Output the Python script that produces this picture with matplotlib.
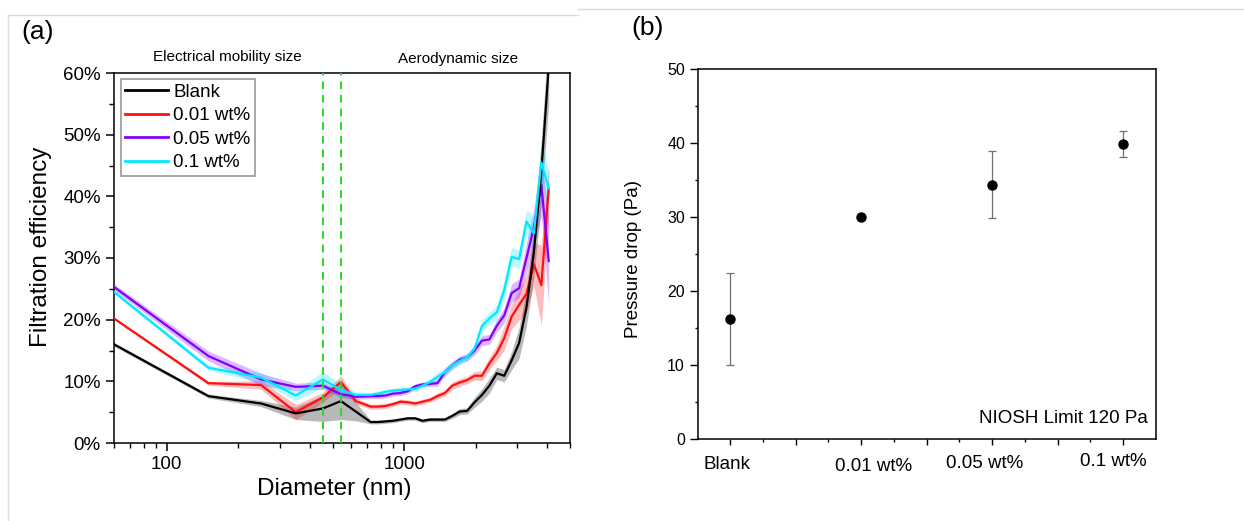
import numpy as np
import matplotlib
matplotlib.use("Agg")
import matplotlib.pyplot as plt
from matplotlib.lines import Line2D
from matplotlib.ticker import FixedLocator, NullFormatter, FuncFormatter
import matplotlib.transforms as mtransforms

plt.rcParams['font.family'] = ['Liberation Sans', 'DejaVu Sans']

# ---- panel (a): filtration efficiency vs diameter ----
diameter = [60, 150, 250, 350, 455,
            542, 626, 723, 777, 835, 898, 965, 1037, 1114, 1197, 1286,
            1382, 1486, 1596, 1715, 1843, 1981, 2129, 2288, 2458, 2642,
            2839, 3051, 3278, 3523, 3786, 4068]

eff_blank = [16.0, 7.6, 6.4, 4.8, 5.6,
             6.8, 5.1, 3.4, 3.4, 3.5, 3.6, 3.8, 4.0, 4.0, 3.6, 3.8,
             3.8, 3.8, 4.4, 5.1, 5.2, 6.6, 7.8, 9.3, 11.3, 10.9,
             13.4, 16.2, 22.0, 31.0, 44.0, 61.0]
std_blank = [0.3, 0.3, 0.5, 1.0, 2.1,
             3.0, 1.5, 0.3, 0.3, 0.3, 0.3, 0.3, 0.3, 0.3, 0.3, 0.3,
             0.3, 0.3, 0.4, 0.5, 0.5, 0.8, 1.0, 1.2, 1.0, 1.0,
             1.5, 2.5, 3.0, 4.0, 5.0, 6.0]

eff_001 = [20.2, 9.7, 9.4, 5.0, 7.4,
           9.9, 6.8, 5.9, 5.9, 6.0, 6.3, 6.7, 6.6, 6.4, 6.7, 7.0,
           7.6, 8.1, 9.3, 9.8, 10.2, 10.9, 10.9, 12.9, 14.6, 17.0,
           20.5, 22.4, 24.2, 29.0, 25.6, 41.3]
std_001 = [0.2, 0.3, 0.7, 1.2, 0.8,
           1.0, 0.5, 0.4, 0.4, 0.4, 0.4, 0.4, 0.4, 0.4, 0.4, 0.4,
           0.5, 0.5, 0.6, 0.6, 0.6, 0.7, 0.8, 1.0, 1.2, 2.0,
           2.0, 2.5, 3.0, 3.5, 6.5, 4.0]

eff_005 = [25.3, 14.1, 10.3, 9.1, 9.3,
           7.9, 7.5, 7.6, 7.6, 7.7, 8.0, 8.1, 8.4, 9.2, 9.5, 9.6,
           9.7, 11.5, 12.6, 13.5, 13.9, 15.0, 16.6, 16.8, 19.0, 20.7,
           24.3, 25.1, 30.0, 35.0, 41.8, 29.5]
std_005 = [0.5, 0.8, 1.0, 0.6, 0.6,
           0.5, 0.4, 0.4, 0.4, 0.4, 0.4, 0.4, 0.4, 0.4, 0.4, 0.4,
           0.5, 0.6, 0.6, 0.6, 0.6, 0.7, 0.8, 0.8, 1.0, 1.2,
           1.5, 1.5, 2.5, 3.0, 5.0, 7.0]

eff_01 = [24.5, 12.2, 10.6, 7.7, 10.3,
          8.6, 7.8, 7.8, 8.0, 8.3, 8.5, 8.6, 8.7, 8.8, 9.3, 9.9,
          10.7, 11.5, 12.6, 13.3, 13.9, 15.3, 19.0, 20.2, 21.2, 24.8,
          30.2, 29.8, 35.9, 34.0, 45.5, 41.3]
std_01 = [0.3, 0.4, 0.8, 0.8, 1.3,
          1.0, 0.5, 0.4, 0.4, 0.4, 0.4, 0.4, 0.4, 0.4, 0.4, 0.6,
          0.8, 0.8, 0.6, 0.6, 0.6, 0.8, 1.0, 1.0, 1.2, 1.5,
          1.5, 1.5, 2.0, 2.5, 3.5, 3.0]

series_labels = ['Blank', '0.01 wt%', '0.05 wt%', '0.1 wt%']
series_colors = ['black', '#ff1010', '#8000ff', '#00e8ff']
boundary_sizes = [455, 542]

# ---- panel (b): pressure drop ----
samples = ['Blank', '0.01 wt%', '0.05 wt%', '0.1 wt%']
pressure_drop = [16.2, 30.0, 34.4, 39.9]
pressure_err = [6.2, 0.0, 4.5, 1.8]


fig = plt.figure(figsize=(12.44, 5.21), dpi=100)
W, H = 1244, 521


def box(l, t, r, b):
    return [l / W, 1 - b / H, (r - l) / W, (b - t) / H]


# screenshot frame lines
for xs, ys in [([8, 578], [15, 15]), ([8, 8], [15, 521]), ([578, 1244], [9, 9])]:
    fig.add_artist(Line2D([x / W for x in xs], [1 - y / H for y in ys],
                          color='#dcdcdc', lw=1.0))

ax = fig.add_axes(box(114, 73, 570, 443))
x = np.array(diameter)
all_eff = [eff_blank, eff_001, eff_005, eff_01]
all_std = [std_blank, std_001, std_005, std_01]
lines = []
for i, (eff, sd, lab, col) in enumerate(zip(all_eff, all_std, series_labels, series_colors)):
    eff = np.array(eff)
    sd = np.array(sd)
    ax.fill_between(x, eff - sd, eff + sd, color=col, alpha=0.28, lw=0, zorder=1)
    z = 6 if lab == 'Blank' else 3 + i
    ln, = ax.plot(x, eff, color=col, lw=1.6, label=lab, zorder=z)
    lines.append(ln)

for b in boundary_sizes:
    ax.axvline(b, color='#22dd22', ls=(0, (4, 3)), lw=1.4, zorder=7)

ax.set_xscale('log')
ax.set_xlim(60, 5000)
ax.set_ylim(0, 60)
ax.xaxis.set_major_locator(FixedLocator([100, 1000]))
ax.xaxis.set_major_formatter(FuncFormatter(lambda v, p: '%d' % v))
ax.xaxis.set_minor_locator(FixedLocator([60, 70, 80, 90, 200, 300, 400, 500, 600, 700,
                                         800, 900, 2000, 3000, 4000, 5000]))
ax.xaxis.set_minor_formatter(NullFormatter())
ax.set_yticks(np.arange(0, 61, 10))
ax.set_yticks(np.arange(5, 60, 10), minor=True)
ax.yaxis.set_major_formatter(FuncFormatter(lambda v, p: '%d%%' % v))
ax.tick_params(which='major', direction='out', length=6, width=1.1, labelsize=13.5)
ax.tick_params(which='minor', direction='out', length=3.5, width=1.0)
for s in ax.spines.values():
    s.set_linewidth(1.1)

ax.set_xlabel('Diameter (nm)', fontsize=17.5)
ax.xaxis.set_label_coords(0.484, -0.095)
ax.set_ylabel('Filtration efficiency', fontsize=17.5)
ax.yaxis.set_label_coords(-0.135, 0.53)

leg = ax.legend(handles=lines, loc='upper left', bbox_to_anchor=(0.0145, 0.984),
                borderaxespad=0, fontsize=13.5, frameon=True, fancybox=False,
                handlelength=2.3, handletextpad=0.25, labelspacing=0.34,
                borderpad=0.25)
leg.get_frame().set_edgecolor('#808080')
leg.get_frame().set_linewidth(1.2)
for h in leg.get_lines():
    h.set_linewidth(2.0)

fig.text(227 / W, 1 - 57 / H, 'Electrical mobility size', fontsize=11,
         ha='center', va='center')
fig.text(458 / W, 1 - 59 / H, 'Aerodynamic size', fontsize=11,
         ha='center', va='center')
fig.text(21 / W, 1 - 32 / H, '(a)', fontsize=19, ha='left', va='center')
fig.text(631 / W, 1 - 28 / H, '(b)', fontsize=19, ha='left', va='center')

# ---- panel (b) ----
bx = fig.add_axes(box(697.5, 69.3, 1155.7, 438.7))
pos = np.arange(1, len(samples) + 1)
bx.errorbar(pos, pressure_drop, yerr=pressure_err, fmt='none', ecolor='#707070',
            elinewidth=0.9, capsize=3.2, capthick=0.9, zorder=2)
bx.plot(pos, pressure_drop, 'o', color='black', ms=6.5, zorder=3)
bx.set_xlim(0.75, 4.25)
bx.set_ylim(0, 50)
bx.set_xticks(np.arange(1, 4.01, 0.5))
bx.set_xticklabels([samples[0], '', samples[1], '', samples[2], '', samples[3]])
bx.set_xticks(np.arange(1.25, 4.0, 0.5), minor=True)
bx.set_yticks(np.arange(0, 51, 10))
bx.set_yticks(np.arange(5, 50, 10), minor=True)
bx.tick_params(axis='y', which='major', direction='out', length=5.5, width=1.0, labelsize=11.5)
bx.tick_params(axis='y', which='minor', direction='out', length=2.5, width=1.0)
bx.tick_params(axis='x', which='major', direction='out', length=4.5, width=1.0,
               labelsize=13.5, pad=8)
bx.tick_params(axis='x', which='minor', direction='out', length=2.5, width=1.0)
for s in bx.spines.values():
    s.set_linewidth(1.1)

# small label offsets as in the original
offsets = [(-3, 0), (0, 0), (12, -2), (0, 0), (-7, 1), (0, 0), (-10, 3)]
for lab, (dx, dy) in zip(bx.get_xticklabels(), offsets):
    lab.set_transform(lab.get_transform() +
                      mtransforms.ScaledTranslation(dx / 100, dy / 100, fig.dpi_scale_trans))

bx.set_ylabel('Pressure drop (Pa)', fontsize=13.5)
bx.yaxis.set_label_coords(-0.122, 0.486)
bx.text(0.982, 0.055, 'NIOSH Limit 120 Pa', transform=bx.transAxes,
        fontsize=13.5, ha='right', va='center')

fig.savefig('out.png', dpi=100, facecolor='white')
